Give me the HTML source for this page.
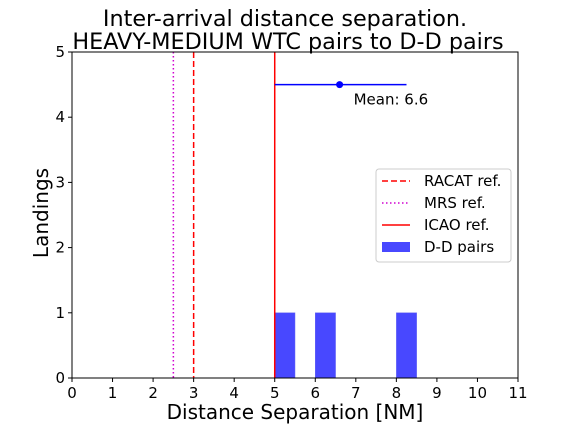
<!DOCTYPE html>
<html><head><meta charset="utf-8"><style>
body{margin:0;background:#fff;}
svg text{font-family:"DejaVu Sans","Liberation Sans",sans-serif;}
</style></head><body>
<svg id="chart" width="576" height="432" xmlns="http://www.w3.org/2000/svg"></svg>
<script>
const binStarts=[5,6,8];
const binCounts=[1,1,1];
const binWidth=0.5;
const xTicks=[0,1,2,3,4,5,6,7,8,9,10,11];
const yTicks=[0,1,2,3,4,5];
const refRacat=[3];
const refMrs=[2.5];
const refIcao=[5];
const meanVal=[6.6];
const meanRange=[5,8.25];
const meanY=[4.5];
const L=72,R=518,T=52,B=378;
const xs=v=>L+(v-0)/(11-0)*(R-L);
const ys=v=>B-(v-0)/(5-0)*(B-T);
const svg=document.getElementById('chart');
const NS='http://www.w3.org/2000/svg';
function mk(tag,attrs,parent){const e=document.createElementNS(NS,tag);for(const k in attrs)e.setAttribute(k,attrs[k]);(parent||svg).appendChild(e);return e;}
let t=mk('text',{x:285,y:26,'text-anchor':'middle','font-size':22.3,fill:'#000'});t.textContent='Inter-arrival distance separation.';


t=mk('text',{x:288,y:49,'text-anchor':'middle','font-size':22.3,fill:'#000'});t.textContent='HEAVY-MEDIUM WTC pairs to D-D pairs';


binStarts.forEach((s,i)=>{const r=mk('rect',{x:xs(s),y:ys(binCounts[i]),width:xs(s+binWidth)-xs(s),height:ys(0)-ys(binCounts[i]),fill:'#4848ff',stroke:'#6a6af0','stroke-width':0.5});

});
let l=mk('line',{x1:xs(refRacat[0]),x2:xs(refRacat[0]),y1:T,y2:B,stroke:'#ff0000','stroke-width':1.5,'stroke-dasharray':'6,3'});


l=mk('line',{x1:xs(refMrs[0]),x2:xs(refMrs[0]),y1:T,y2:B,stroke:'#d000d0','stroke-width':1.5,'stroke-dasharray':'1.5,2.5'});


l=mk('line',{x1:xs(refIcao[0]),x2:xs(refIcao[0]),y1:T,y2:B,stroke:'#ff0000','stroke-width':1.5});


l=mk('line',{x1:xs(meanRange[0]),x2:xs(meanRange[1]),y1:ys(meanY[0]),y2:ys(meanY[0]),stroke:'#0000ff','stroke-width':1.5});


let c=mk('circle',{cx:xs(meanVal[0]),cy:ys(meanY[0]),r:3.5,fill:'#0000ff'});


t=mk('text',{x:xs(meanVal[0])+14,y:ys(meanY[0])+20,'font-size':15,fill:'#000'});t.textContent='Mean: '+meanVal[0];


let f=mk('rect',{x:L,y:T,width:R-L,height:B-T,fill:'none',stroke:'#000','stroke-width':1});


xTicks.forEach(v=>{const x=xs(v);const tk=mk('line',{x1:x,x2:x,y1:B,y2:B+4,stroke:'#000'});


const tx=mk('text',{x:x,y:B+20,'text-anchor':'middle','font-size':15});tx.textContent=v;

});
yTicks.forEach(v=>{const y=ys(v);const tk=mk('line',{x1:L-4,x2:L,y1:y,y2:y,stroke:'#000'});


const tx=mk('text',{x:L-7,y:y+5,'text-anchor':'end','font-size':15});tx.textContent=v;

});
t=mk('text',{x:(L+R)/2,y:419,'text-anchor':'middle','font-size':20});t.textContent='Distance Separation [NM]';


t=mk('text',{x:48,y:(T+B)/2-2,'text-anchor':'middle','font-size':20,transform:'rotate(-90 48 '+((T+B)/2-2)+')'});t.textContent='Landings';


const g=mk('g',{});


mk('rect',{x:376,y:169,width:135,height:93,rx:3,fill:'#fff',stroke:'#ccc'},g);
const items=[['RACAT ref.','#ff0000','6,3'],['MRS ref.','#d000d0','1.5,2.5'],['ICAO ref.','#ff0000',null],['D-D pairs','#4848ff','bar']];
items.forEach((it,i)=>{const y=181+i*22;
if(it[2]==='bar'){mk('rect',{x:382,y:y-5,width:28,height:10,fill:it[1]},g);}
else{const a={x1:382,x2:410,y1:y,y2:y,stroke:it[1],'stroke-width':1.5};if(it[2])a['stroke-dasharray']=it[2];mk('line',a,g);}
const tx=mk('text',{x:424,y:y+5,'font-size':15},g);tx.textContent=it[0];

});
</script>
</body></html>
